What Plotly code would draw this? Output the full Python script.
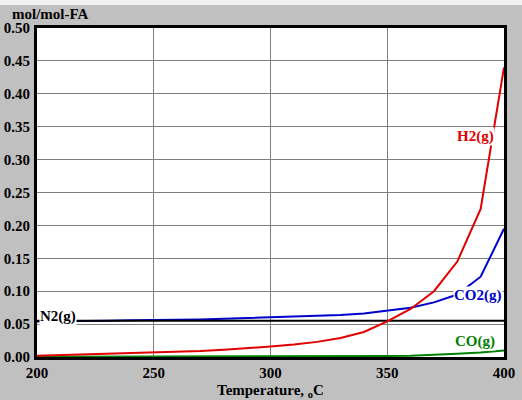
import plotly.graph_objects as go

temps = [200, 210, 220, 230, 240, 250, 260, 270, 280, 290, 300,
         310, 320, 330, 340, 350, 360, 370, 380, 390, 400]
h2 = [0.002, 0.003, 0.004, 0.004, 0.005, 0.006, 0.007, 0.009, 0.011, 0.013, 0.016,
      0.019, 0.023, 0.029, 0.038, 0.054, 0.073, 0.100, 0.145, 0.225, 0.440]
co2 = [0.054, 0.054, 0.055, 0.055, 0.056, 0.056, 0.057, 0.057, 0.058, 0.059, 0.060,
       0.061, 0.062, 0.064, 0.066, 0.070, 0.075, 0.083, 0.095, 0.122, 0.195]
co = [0.0005, 0.0005, 0.0005, 0.0005, 0.0005, 0.0005, 0.0005, 0.0005, 0.0005, 0.0005, 0.0005,
      0.0005, 0.0006, 0.001, 0.001, 0.0015, 0.002, 0.003, 0.005, 0.007, 0.010]
n2 = [0.055] * len(temps)

x_ticks = [200, 250, 300, 350, 400]
y_ticks = [0.00, 0.05, 0.10, 0.15, 0.20, 0.25, 0.30, 0.35, 0.40, 0.45, 0.50]

FONT = "Liberation Serif"

fig = go.Figure()
fig.add_trace(go.Scatter(x=temps, y=co, mode="lines", line=dict(color="#008000", width=2), hoverinfo="skip"))
fig.add_trace(go.Scatter(x=temps, y=co2, mode="lines", line=dict(color="#0000CC", width=2), hoverinfo="skip"))
fig.add_trace(go.Scatter(x=temps, y=n2, mode="lines", line=dict(color="black", width=2), hoverinfo="skip"))
fig.add_trace(go.Scatter(x=temps, y=h2, mode="lines", line=dict(color="#E00000", width=2), hoverinfo="skip"))

annots = [
    dict(x=388, y=0.335, text="<b>H2(g)</b>", color="#E00000"),
    dict(x=389, y=0.093, text="<b>CO2(g)</b>", color="#0000CC"),
    dict(x=387.5, y=0.023, text="<b>CO(g)</b>", color="#008000"),
]
for a in annots:
    fig.add_annotation(x=a["x"], y=a["y"], xref="x", yref="y", text=a["text"], showarrow=False,
                       font=dict(family=FONT, size=15, color=a["color"]), bgcolor="white", borderpad=0)
fig.add_annotation(x=200, y=0.061, xref="x", yref="y", text="<b>N2(g)</b>", showarrow=False,
                   xanchor="left", xshift=2, font=dict(family=FONT, size=15, color="black"),
                   bgcolor="white", borderpad=0)
fig.add_annotation(x=-0.058, y=1.042, xref="paper", yref="paper", text="<b>mol/mol-FA</b>",
                   showarrow=False, xanchor="left", yanchor="middle",
                   font=dict(family=FONT, size=15, color="black"))
fig.add_annotation(x=0.5, y=-0.104, xref="paper", yref="paper",
                   text="<b>Temperature, <sub>o</sub>C</b>", showarrow=False,
                   xanchor="center", yanchor="middle",
                   font=dict(family=FONT, size=15, color="black"))

# light top strip
fig.add_shape(type="rect", xref="paper", yref="paper", x0=-0.08, x1=1.04, y0=1.07, y1=1.085,
              fillcolor="#F0F0F0", line=dict(width=0), layer="below")

fig.update_layout(
    width=522, height=400,
    margin=dict(l=37, r=18, t=28, b=43),
    paper_bgcolor="#C0C0C0", plot_bgcolor="white",
    showlegend=False,
    font=dict(family=FONT, size=15, color="black"),
)
fig.update_xaxes(range=[200, 400], tickvals=x_ticks, ticktext=[f"<b>{v}</b>" for v in x_ticks],
                 showgrid=True, gridcolor="#808080", gridwidth=1,
                 showline=True, linecolor="black", linewidth=3, mirror=True, automargin=False,
                 ticks="", zeroline=False, tickfont=dict(family=FONT, size=15), ticklabelstandoff=0)
fig.update_yaxes(range=[0, 0.5], tickvals=y_ticks, ticktext=[f"<b>{v:.2f}</b>" for v in y_ticks],
                 showgrid=True, gridcolor="#808080", gridwidth=1,
                 showline=True, linecolor="black", linewidth=3, mirror=True, automargin=False,
                 ticks="", zeroline=False, tickfont=dict(family=FONT, size=15), ticklabelstandoff=1)

fig.write_html("out.html")
